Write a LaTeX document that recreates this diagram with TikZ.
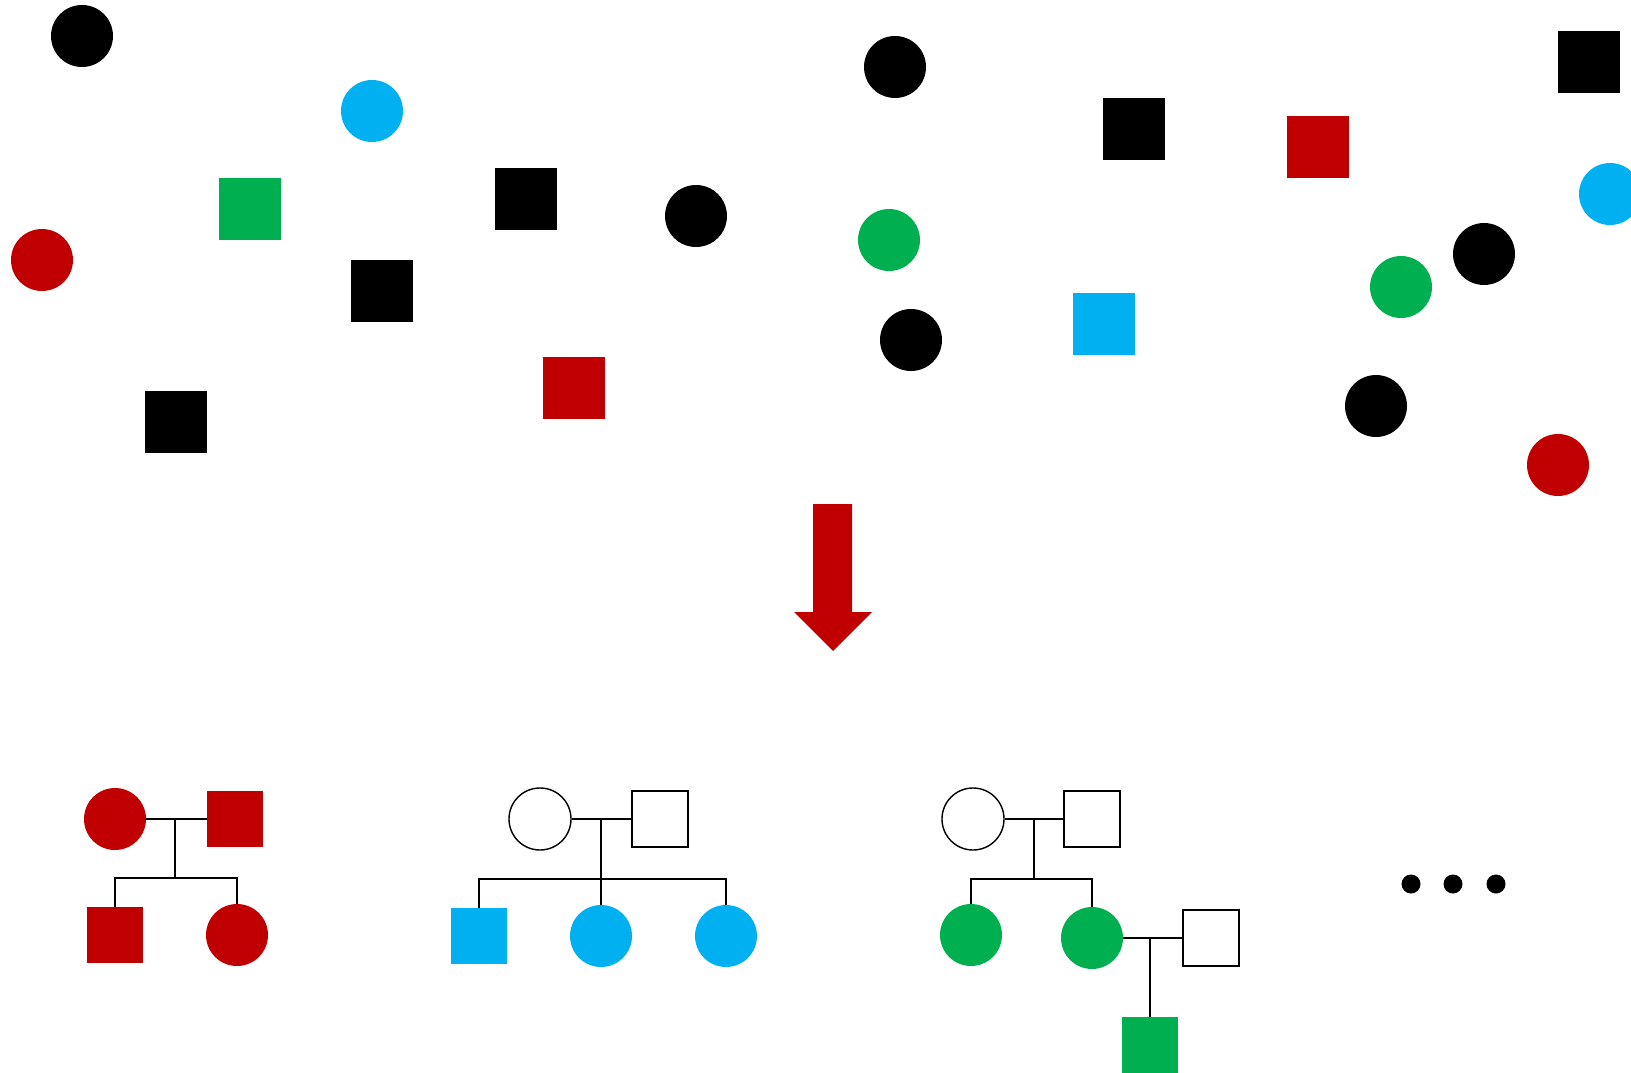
\documentclass[tikz,border=0pt]{standalone}
\usepackage{tikz}
\definecolor{pedred}{HTML}{C00000}
\definecolor{pedblue}{HTML}{00B0F0}
\definecolor{pedgreen}{HTML}{00B050}

\begin{document}
\begin{tikzpicture}[x=1pt, y=-1pt,
  fem/.style={circle, inner sep=0pt, minimum size=62pt},
  mal/.style={rectangle, inner sep=0pt, minimum size=56pt},
  bigmal/.style={rectangle, inner sep=0pt, minimum size=62pt},
  open/.style={draw=black, line width=1.4pt, fill=white},
  kin/.style={line width=1.6pt, black}]
  \useasboundingbox (0,0) rectangle (1631,1073);
  \foreach \x/\y/\c [count=\i] in {82/36/black, 372/111/pedblue, 42/260/pedred, 696/216/black,
      895/67/black, 889/240/pedgreen, 911/340/black, 1610/194/pedblue, 1484/254/black,
      1401/287/pedgreen, 1376/406/black, 1558/465/pedred}
    \node[fem, fill=\c] (pc\i) at (\x,\y) {};
  \foreach \x/\y/\c [count=\i] in {250/209/pedgreen, 526/199/black, 382/291/black, 176/422/black,
      574/388/pedred, 1134/129/black, 1104/324/pedblue, 1318/147/pedred, 1589/62/black}
    \node[bigmal, fill=\c] (ps\i) at (\x,\y) {};
  \fill[pedred] (813,504) -- (852,504) -- (852,612) -- (872,612) -- (833,651)
    -- (794,612) -- (813,612) -- cycle;
  \node[fem, fill=pedred] (mo1) at (115,819) {};
  \node[mal, fill=pedred] (fa1) at (235,819) {};
  \node[mal, fill=pedred] (so1) at (115,935) {};
  \node[fem, fill=pedred] (da1) at (237,935) {};
  \coordinate (mj1) at (175,819);
  \coordinate (sb1) at (175,878);
  \draw[kin] (mo1) -- (fa1);
  \draw[kin] (mj1) -- (sb1);
  \draw[kin] (so1.north) |- (sb1) -| (da1.north);
  \node[fem, open] (mo2) at (540,819) {};
  \node[mal, open] (fa2) at (660,819) {};
  \node[mal, fill=pedblue] (so2) at (479,936) {};
  \node[fem, fill=pedblue] (da2) at (601,936) {};
  \node[fem, fill=pedblue] (db2) at (726,936) {};
  \coordinate (mj2) at (601,819);
  \coordinate (sb2) at (601,879);
  \draw[kin] (mo2) -- (fa2);
  \draw[kin] (mj2) -- (sb2) -- (da2.north);
  \draw[kin] (so2.north) |- (sb2) -| (db2.north);
  \node[fem, open] (mo3) at (973,819) {};
  \node[mal, open] (fa3) at (1092,819) {};
  \node[fem, fill=pedgreen] (da3) at (971,935) {};
  \node[fem, fill=pedgreen] (db3) at (1092,938) {};
  \node[mal, open] (sp3) at (1211,938) {};
  \node[mal, fill=pedgreen] (gs3) at (1150,1045) {};
  \coordinate (mj3) at (1034,819);
  \coordinate (sb3) at (1034,879);
  \coordinate (mk3) at (1150,938);
  \draw[kin] (mo3) -- (fa3);
  \draw[kin] (mj3) -- (sb3);
  \draw[kin] (da3.north) |- (sb3) -| (db3.north);
  \draw[kin] (db3) -- (sp3);
  \draw[kin] (mk3) -- (gs3.north);
  \foreach \x [count=\i] in {1411,1453,1496}
    \node[circle, fill=black, inner sep=0pt, minimum size=19pt] (dot\i) at (\x,884) {};
\end{tikzpicture}
\end{document}
